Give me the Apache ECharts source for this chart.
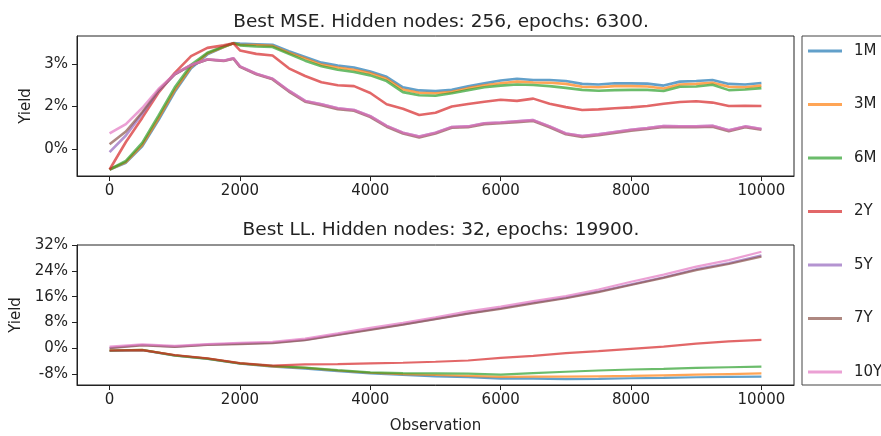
<!DOCTYPE html>
<html>
<head>
<meta charset="utf-8">
<script src="https://cdn.jsdelivr.net/npm/echarts@6/dist/echarts.min.js"></script>
<style>
  html, body { margin: 0; padding: 0; background: #fff; }
  #chart { width: 881px; height: 436px; }
</style>
</head>
<body>
<div id="chart"></div>
<script>
// top panel: observation index, yield values
var obsTop = [0, 250, 500, 750, 1000, 1250, 1500, 1750, 1900, 2000, 2250, 2500, 2750, 3000, 3250, 3500,
    3750, 4000, 4250, 4500, 4750, 5000, 5250, 5500, 5750, 6000, 6250, 6500, 6750, 7000, 7250, 7500,
    7750, 8000, 8250, 8500, 8750, 9000, 9250, 9500, 9750, 10000];
var mse1M = [-0.72, -0.48, 0.10, 1.02, 2.02, 2.85, 3.34, 3.60, 3.74, 3.72, 3.70, 3.68, 3.45, 3.25, 3.05, 2.95,
    2.88, 2.74, 2.55, 2.18, 2.07, 2.05, 2.09, 2.22, 2.32, 2.42, 2.48, 2.44, 2.44, 2.40, 2.30, 2.28,
    2.32, 2.32, 2.31, 2.24, 2.38, 2.40, 2.44, 2.30, 2.28, 2.33];
var mse3M = [-0.72, -0.46, 0.14, 1.08, 2.08, 2.90, 3.37, 3.60, 3.73, 3.68, 3.67, 3.64, 3.40, 3.20, 2.98, 2.88,
    2.80, 2.68, 2.48, 2.10, 1.99, 1.97, 2.02, 2.15, 2.25, 2.32, 2.38, 2.35, 2.34, 2.30, 2.20, 2.18,
    2.22, 2.22, 2.21, 2.14, 2.28, 2.30, 2.34, 2.20, 2.18, 2.24];
var mse6M = [-0.72, -0.42, 0.22, 1.18, 2.18, 2.97, 3.40, 3.62, 3.73, 3.66, 3.62, 3.60, 3.36, 3.12, 2.92, 2.80,
    2.72, 2.60, 2.40, 2.01, 1.90, 1.88, 1.97, 2.08, 2.18, 2.24, 2.28, 2.26, 2.22, 2.16, 2.09, 2.06,
    2.08, 2.09, 2.09, 2.05, 2.20, 2.21, 2.27, 2.08, 2.10, 2.15];
var mse2Y = [-0.72, 0.25, 1.10, 1.99, 2.69, 3.28, 3.57, 3.66, 3.73, 3.48, 3.36, 3.30, 2.85, 2.58, 2.36, 2.25,
    2.22, 1.98, 1.58, 1.42, 1.20, 1.28, 1.50, 1.59, 1.67, 1.74, 1.70, 1.78, 1.60, 1.48, 1.38, 1.40,
    1.44, 1.47, 1.52, 1.60, 1.66, 1.69, 1.64, 1.52, 1.53, 1.52];
var mse5Y = [-0.11, 0.48, 1.25, 2.05, 2.64, 2.96, 3.16, 3.12, 3.20, 2.92, 2.66, 2.48, 2.06, 1.70, 1.58, 1.44,
    1.38, 1.16, 0.82, 0.58, 0.44, 0.58, 0.78, 0.80, 0.91, 0.94, 0.98, 1.02, 0.80, 0.55, 0.46, 0.52,
    0.60, 0.68, 0.74, 0.81, 0.80, 0.80, 0.82, 0.66, 0.80, 0.71];
var mse7Y = [0.17, 0.62, 1.30, 2.07, 2.64, 2.96, 3.16, 3.11, 3.19, 2.90, 2.64, 2.46, 2.03, 1.67, 1.55, 1.41,
    1.35, 1.13, 0.79, 0.55, 0.41, 0.55, 0.75, 0.77, 0.88, 0.91, 0.95, 0.99, 0.77, 0.52, 0.43, 0.49,
    0.57, 0.65, 0.71, 0.78, 0.77, 0.77, 0.79, 0.63, 0.77, 0.68];
var mse10Y = [0.55, 0.88, 1.45, 2.12, 2.65, 2.97, 3.17, 3.12, 3.20, 2.92, 2.66, 2.48, 2.06, 1.70, 1.58, 1.44,
    1.38, 1.16, 0.82, 0.58, 0.44, 0.58, 0.78, 0.80, 0.91, 0.94, 0.98, 1.02, 0.80, 0.55, 0.46, 0.52,
    0.60, 0.68, 0.74, 0.81, 0.80, 0.80, 0.82, 0.66, 0.80, 0.71];

// bottom panel
var obsBottom = [0, 500, 1000, 1500, 2000, 2500, 3000, 3500, 4000, 4500, 5000, 5500, 6000, 6500, 7000,
    7500, 8000, 8500, 9000, 9500, 10000];
var ll1M = [-0.8, -0.6, -2.3, -3.3, -4.8, -5.7, -6.3, -7.1, -7.8, -8.3, -8.7, -9.0, -9.4, -9.4, -9.6,
    -9.5, -9.3, -9.2, -9.0, -8.9, -8.8];
var ll3M = [-0.7, -0.5, -2.2, -3.2, -4.7, -5.6, -6.1, -6.9, -7.6, -8.0, -8.3, -8.6, -8.9, -8.8, -8.8,
    -8.7, -8.6, -8.4, -8.2, -8.0, -7.8];
var ll6M = [-0.7, -0.5, -2.2, -3.2, -4.7, -5.5, -6.0, -6.8, -7.5, -7.7, -7.8, -7.9, -8.2, -7.7, -7.3,
    -6.9, -6.6, -6.4, -6.1, -5.9, -5.7];
var ll2Y = [-0.7, -0.6, -2.1, -3.1, -4.6, -5.4, -5.0, -4.9, -4.7, -4.5, -4.2, -3.8, -3.0, -2.4, -1.5,
    -0.9, -0.2, 0.5, 1.4, 2.1, 2.6];
var ll5Y = [0.1, 1.0, 0.5, 1.1, 1.4, 1.7, 2.6, 4.2, 5.8, 7.4, 9.1, 10.8, 12.4, 14.1, 15.7,
    17.6, 19.8, 22.0, 24.5, 26.4, 28.8];
var ll7Y = [0.0, 0.9, 0.4, 1.0, 1.3, 1.6, 2.5, 4.1, 5.7, 7.3, 9.0, 10.7, 12.2, 13.9, 15.5,
    17.4, 19.6, 21.8, 24.2, 26.1, 28.4];
var ll10Y = [0.5, 1.2, 0.7, 1.3, 1.7, 2.0, 3.0, 4.6, 6.3, 7.9, 9.6, 11.4, 12.9, 14.6, 16.2,
    18.2, 20.6, 22.8, 25.3, 27.3, 29.9];

var names = ['1M', '3M', '6M', '2Y', '5Y', '7Y', '10Y'];
var colors = ['rgba(31,119,180,0.7)', 'rgba(255,127,14,0.7)', 'rgba(44,160,44,0.7)', 'rgba(214,39,40,0.7)',
    'rgba(148,103,189,0.7)', 'rgba(140,86,75,0.7)', 'rgba(227,119,194,0.7)'];
var xTicks = [0, 2000, 4000, 6000, 8000, 10000];
var topTicks = [0, 1.5, 3];
var bottomTicks = [-8, 0, 8, 16, 24, 32];

var topSets = [mse1M, mse3M, mse6M, mse2Y, mse5Y, mse7Y, mse10Y];
var bottomSets = [ll1M, ll3M, ll6M, ll2Y, ll5Y, ll7Y, ll10Y];

var font = 'DejaVu Sans';
var ink = '#222';

function pairs(xs, ys) {
    return xs.map(function (x, i) { return [x, ys[i]]; });
}

function xAxisFor(gridIndex, withName) {
    return {
        type: 'value', gridIndex: gridIndex, min: -500, max: 10500,
        name: withName ? 'Observation' : '', nameLocation: 'middle', nameGap: 34,
        nameTextStyle: { fontFamily: font, fontSize: 15, color: ink },
        axisLine: { show: true, onZero: false, lineStyle: { color: ink, width: 1 } },
        axisTick: { show: true, length: 5, customValues: xTicks, lineStyle: { color: ink } },
        axisLabel: {
            customValues: xTicks, margin: 8, fontFamily: font, fontSize: 15, color: ink,
            formatter: function (v) { return String(v); }
        },
        splitLine: { show: false }
    };
}

function yAxisFor(gridIndex, min, max, ticks, gap) {
    return {
        type: 'value', gridIndex: gridIndex, min: min, max: max,
        name: 'Yield', nameLocation: 'middle', nameGap: gap,
        nameTextStyle: { fontFamily: font, fontSize: 15, color: ink },
        axisLine: { show: true, onZero: false, lineStyle: { color: ink, width: 1 } },
        axisTick: { show: true, length: 5, customValues: ticks, lineStyle: { color: ink } },
        axisLabel: {
            customValues: ticks, margin: 9, fontFamily: font, fontSize: 15, color: ink,
            formatter: function (v) { return Math.round(v) + '%'; }
        },
        splitLine: { show: false }
    };
}

var series = [];
names.forEach(function (n, i) {
    series.push({
        name: n, type: 'line', xAxisIndex: 0, yAxisIndex: 0, showSymbol: false,
        color: colors[i], lineStyle: { width: 2.6, color: colors[i] },
        data: pairs(obsTop, topSets[i])
    });
});
names.forEach(function (n, i) {
    series.push({
        name: n, type: 'line', xAxisIndex: 1, yAxisIndex: 1, showSymbol: false,
        color: colors[i], lineStyle: { width: 2.2, color: colors[i] },
        data: pairs(obsBottom, bottomSets[i])
    });
});

var myChart = echarts.init(document.getElementById('chart'));
myChart.setOption({
    animation: false,
    backgroundColor: '#fff',
    title: [{
        text: 'Best MSE. Hidden nodes: 256, epochs: 6300.',
        left: 436, top: 8, textAlign: 'center',
        textStyle: { fontFamily: font, fontSize: 18.5, fontWeight: 'normal', color: ink }
    }, {
        text: 'Best LL. Hidden nodes: 32, epochs: 19900.',
        left: 436, top: 216, textAlign: 'center',
        textStyle: { fontFamily: font, fontSize: 18.5, fontWeight: 'normal', color: ink }
    }],
    legend: {
        data: names, orient: 'vertical', left: 802, top: 36,
        padding: [5, 10, 3, 6], itemGap: 33.5,
        itemWidth: 34, itemHeight: 3, icon: 'rect',
        borderColor: '#444', borderWidth: 1,
        textStyle: { fontFamily: font, fontSize: 15, color: ink, lineHeight: 20, padding: [0, 0, 0, 7] }
    },
    grid: [
        { left: 77, top: 36, width: 717, height: 140, show: true, borderColor: ink, borderWidth: 1 },
        { left: 77, top: 245, width: 717, height: 140, show: true, borderColor: ink, borderWidth: 1 }
    ],
    xAxis: [xAxisFor(0, false), xAxisFor(1, true)],
    yAxis: [yAxisFor(0, -0.95, 3.99, topTicks, 41), yAxisFor(1, -11.4, 32.0, bottomTicks, 51)],
    series: series
});
</script>
</body>
</html>
